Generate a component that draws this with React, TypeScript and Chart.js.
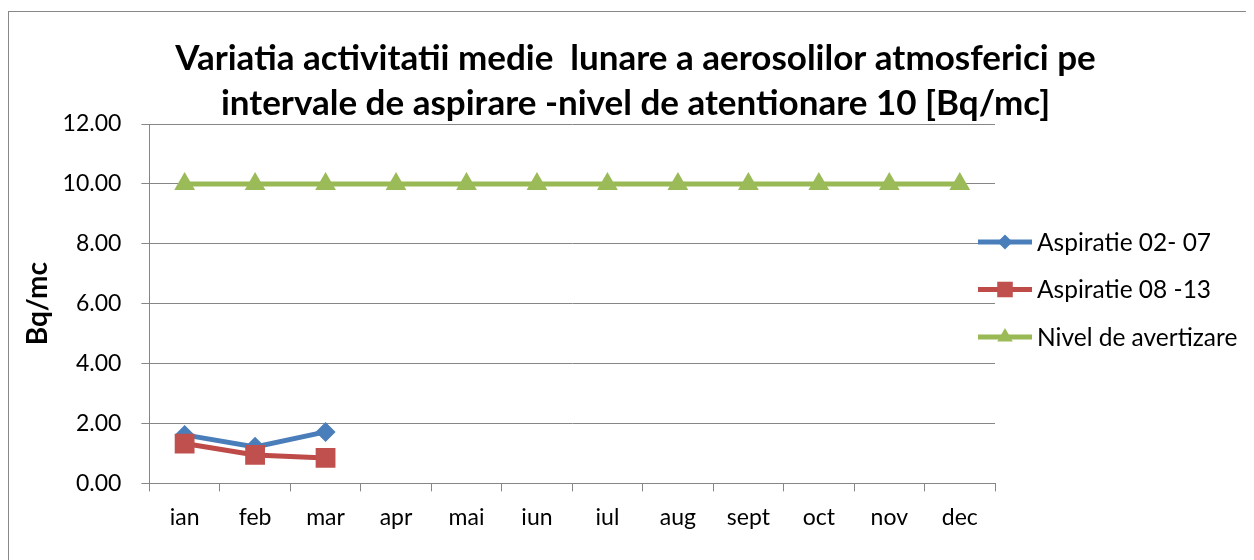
import React, { useEffect, useRef } from "react";
import { Chart, registerables } from "chart.js";
import { drawPoint } from "chart.js/helpers";

Chart.register(...registerables);

const categories = ["ian", "feb", "mar", "apr", "mai", "iun", "iul", "aug", "sept", "oct", "nov", "dec"];
const aspiratie0207: (number | null)[] = [1.62, 1.22, 1.72, null, null, null, null, null, null, null, null, null];
const aspiratie0813: (number | null)[] = [1.33, 0.95, 0.85, null, null, null, null, null, null, null, null, null];
const nivelAvertizare: number[] = [10, 10, 10, 10, 10, 10, 10, 10, 10, 10, 10, 10];
const seriesNames = ["Aspiratie 02- 07", "Aspiratie 08 -13", "Nivel de avertizare"];
const titleLines = [
  "Variatia activitatii medie  lunare a aerosolilor atmosferici pe",
  "intervale de aspirare -nivel de atentionare 10 [Bq/mc]",
];
const yAxisTitle = "Bq/mc";

const FONT = "Lato, 'Open Sans', sans-serif";
const GRID = "#868686";

const titlePlugin = {
  id: "customTitle",
  afterDraw(chart: any) {
    const ctx = chart.ctx;
    ctx.save();
    ctx.fillStyle = "#000";
    ctx.font = `bold 35px ${FONT}`;
    ctx.textAlign = "center";
    ctx.textBaseline = "middle";
    const cx = chart.width / 2 + 4;
    titleLines.forEach((line, i) => {
      ctx.fillText(line, cx, 47 + i * 45);
    });
    ctx.restore();
  },
};

const legendPlugin = {
  id: "customLegend",
  afterDraw(chart: any) {
    const ctx = chart.ctx;
    const area = chart.chartArea;
    const x0 = area.right - 17;
    const legendRadius = [7.5, 11, 9];
    chart.data.datasets.forEach((ds: any, i: number) => {
      const y = area.top + 118 + i * 47.5;
      ctx.save();
      ctx.strokeStyle = ds.borderColor;
      ctx.lineWidth = ds.borderWidth;
      ctx.beginPath();
      ctx.moveTo(x0, y);
      ctx.lineTo(x0 + 54, y);
      ctx.stroke();
      ctx.fillStyle = ds.pointBackgroundColor;
      ctx.strokeStyle = ds.pointBorderColor;
      drawPoint(ctx, { pointStyle: ds.pointStyle, radius: legendRadius[i], borderWidth: 0, rotation: 0 }, x0 + 27, y);
      ctx.fillStyle = "#000";
      ctx.font = `24.5px ${FONT}`;
      ctx.textBaseline = "middle";
      ctx.textAlign = "left";
      ctx.fillText(ds.label, x0 + 59, y + 1);
      ctx.restore();
    });
  },
};

export default function App() {
  const canvasRef = useRef<HTMLCanvasElement>(null);

  useEffect(() => {
    document.body.style.overflow = "hidden";
    const chart = new Chart(canvasRef.current!, {
      type: "line",
      data: {
        labels: categories,
        datasets: [
          {
            label: seriesNames[0],
            data: aspiratie0207,
            order: 2,
            borderColor: "#4A7EBB",
            backgroundColor: "#4A7EBB",
            pointBackgroundColor: "#4A7EBB",
            pointBorderColor: "#4A7EBB",
            borderWidth: 5,
            pointStyle: "rectRot",
            pointRadius: 10,
            pointBorderWidth: 0,
          },
          {
            label: seriesNames[1],
            data: aspiratie0813,
            order: 1,
            borderColor: "#BE4B48",
            backgroundColor: "#C0504D",
            pointBackgroundColor: "#C0504D",
            pointBorderColor: "#C0504D",
            borderWidth: 5,
            pointStyle: "rect",
            pointRadius: 14,
            pointBorderWidth: 0,
          },
          {
            label: seriesNames[2],
            data: nivelAvertizare,
            order: 0,
            borderColor: "#98B954",
            backgroundColor: "#9BBB59",
            pointBackgroundColor: "#9BBB59",
            pointBorderColor: "#9BBB59",
            borderWidth: 5,
            pointStyle: "triangle",
            pointRadius: 12,
            pointBorderWidth: 0,
          },
        ],
      },
      options: {
        animation: false,
        responsive: true,
        maintainAspectRatio: false,
        layout: { padding: { left: 12, right: 259, top: 112, bottom: 17 } },
        plugins: {
          legend: { display: false },
          tooltip: { enabled: false },
          title: { display: false },
        },
        scales: {
          x: {
            offset: true,
            grid: {
              offset: true,
              drawOnChartArea: false,
              drawTicks: true,
              tickLength: 8,
              color: GRID,
              lineWidth: 1,
            },
            border: { color: GRID, width: 1 },
            ticks: { color: "#000", font: { family: FONT, size: 23 }, padding: 12, maxRotation: 0, autoSkip: false },
          },
          y: {
            min: 0,
            max: 12,
            grid: { color: GRID, lineWidth: 1, tickLength: 8 },
            border: { color: GRID, width: 1 },
            ticks: {
              stepSize: 2,
              color: "#000",
              font: { family: FONT, size: 23 },
              padding: 20,
              callback: (v: any) => Number(v).toFixed(2),
            },
            title: {
              display: true,
              text: yAxisTitle,
              color: "#000",
              font: { family: FONT, size: 28, weight: "bold" },
              padding: { top: 0, bottom: -12 },
            },
          },
        },
      },
      plugins: [titlePlugin, legendPlugin],
    });
    return () => chart.destroy();
  }, []);

  return (
    <div
      style={{
        marginTop: 3,
        width: 1246,
        height: 549,
        borderLeft: "1px solid #888",
        borderTop: "1px solid #888",
        boxSizing: "border-box",
        position: "relative",
        background: "#fff",
      }}
    >
      <div style={{ position: "relative", width: 1245, height: 548 }}>
        <canvas ref={canvasRef} />
      </div>
    </div>
  );
}
